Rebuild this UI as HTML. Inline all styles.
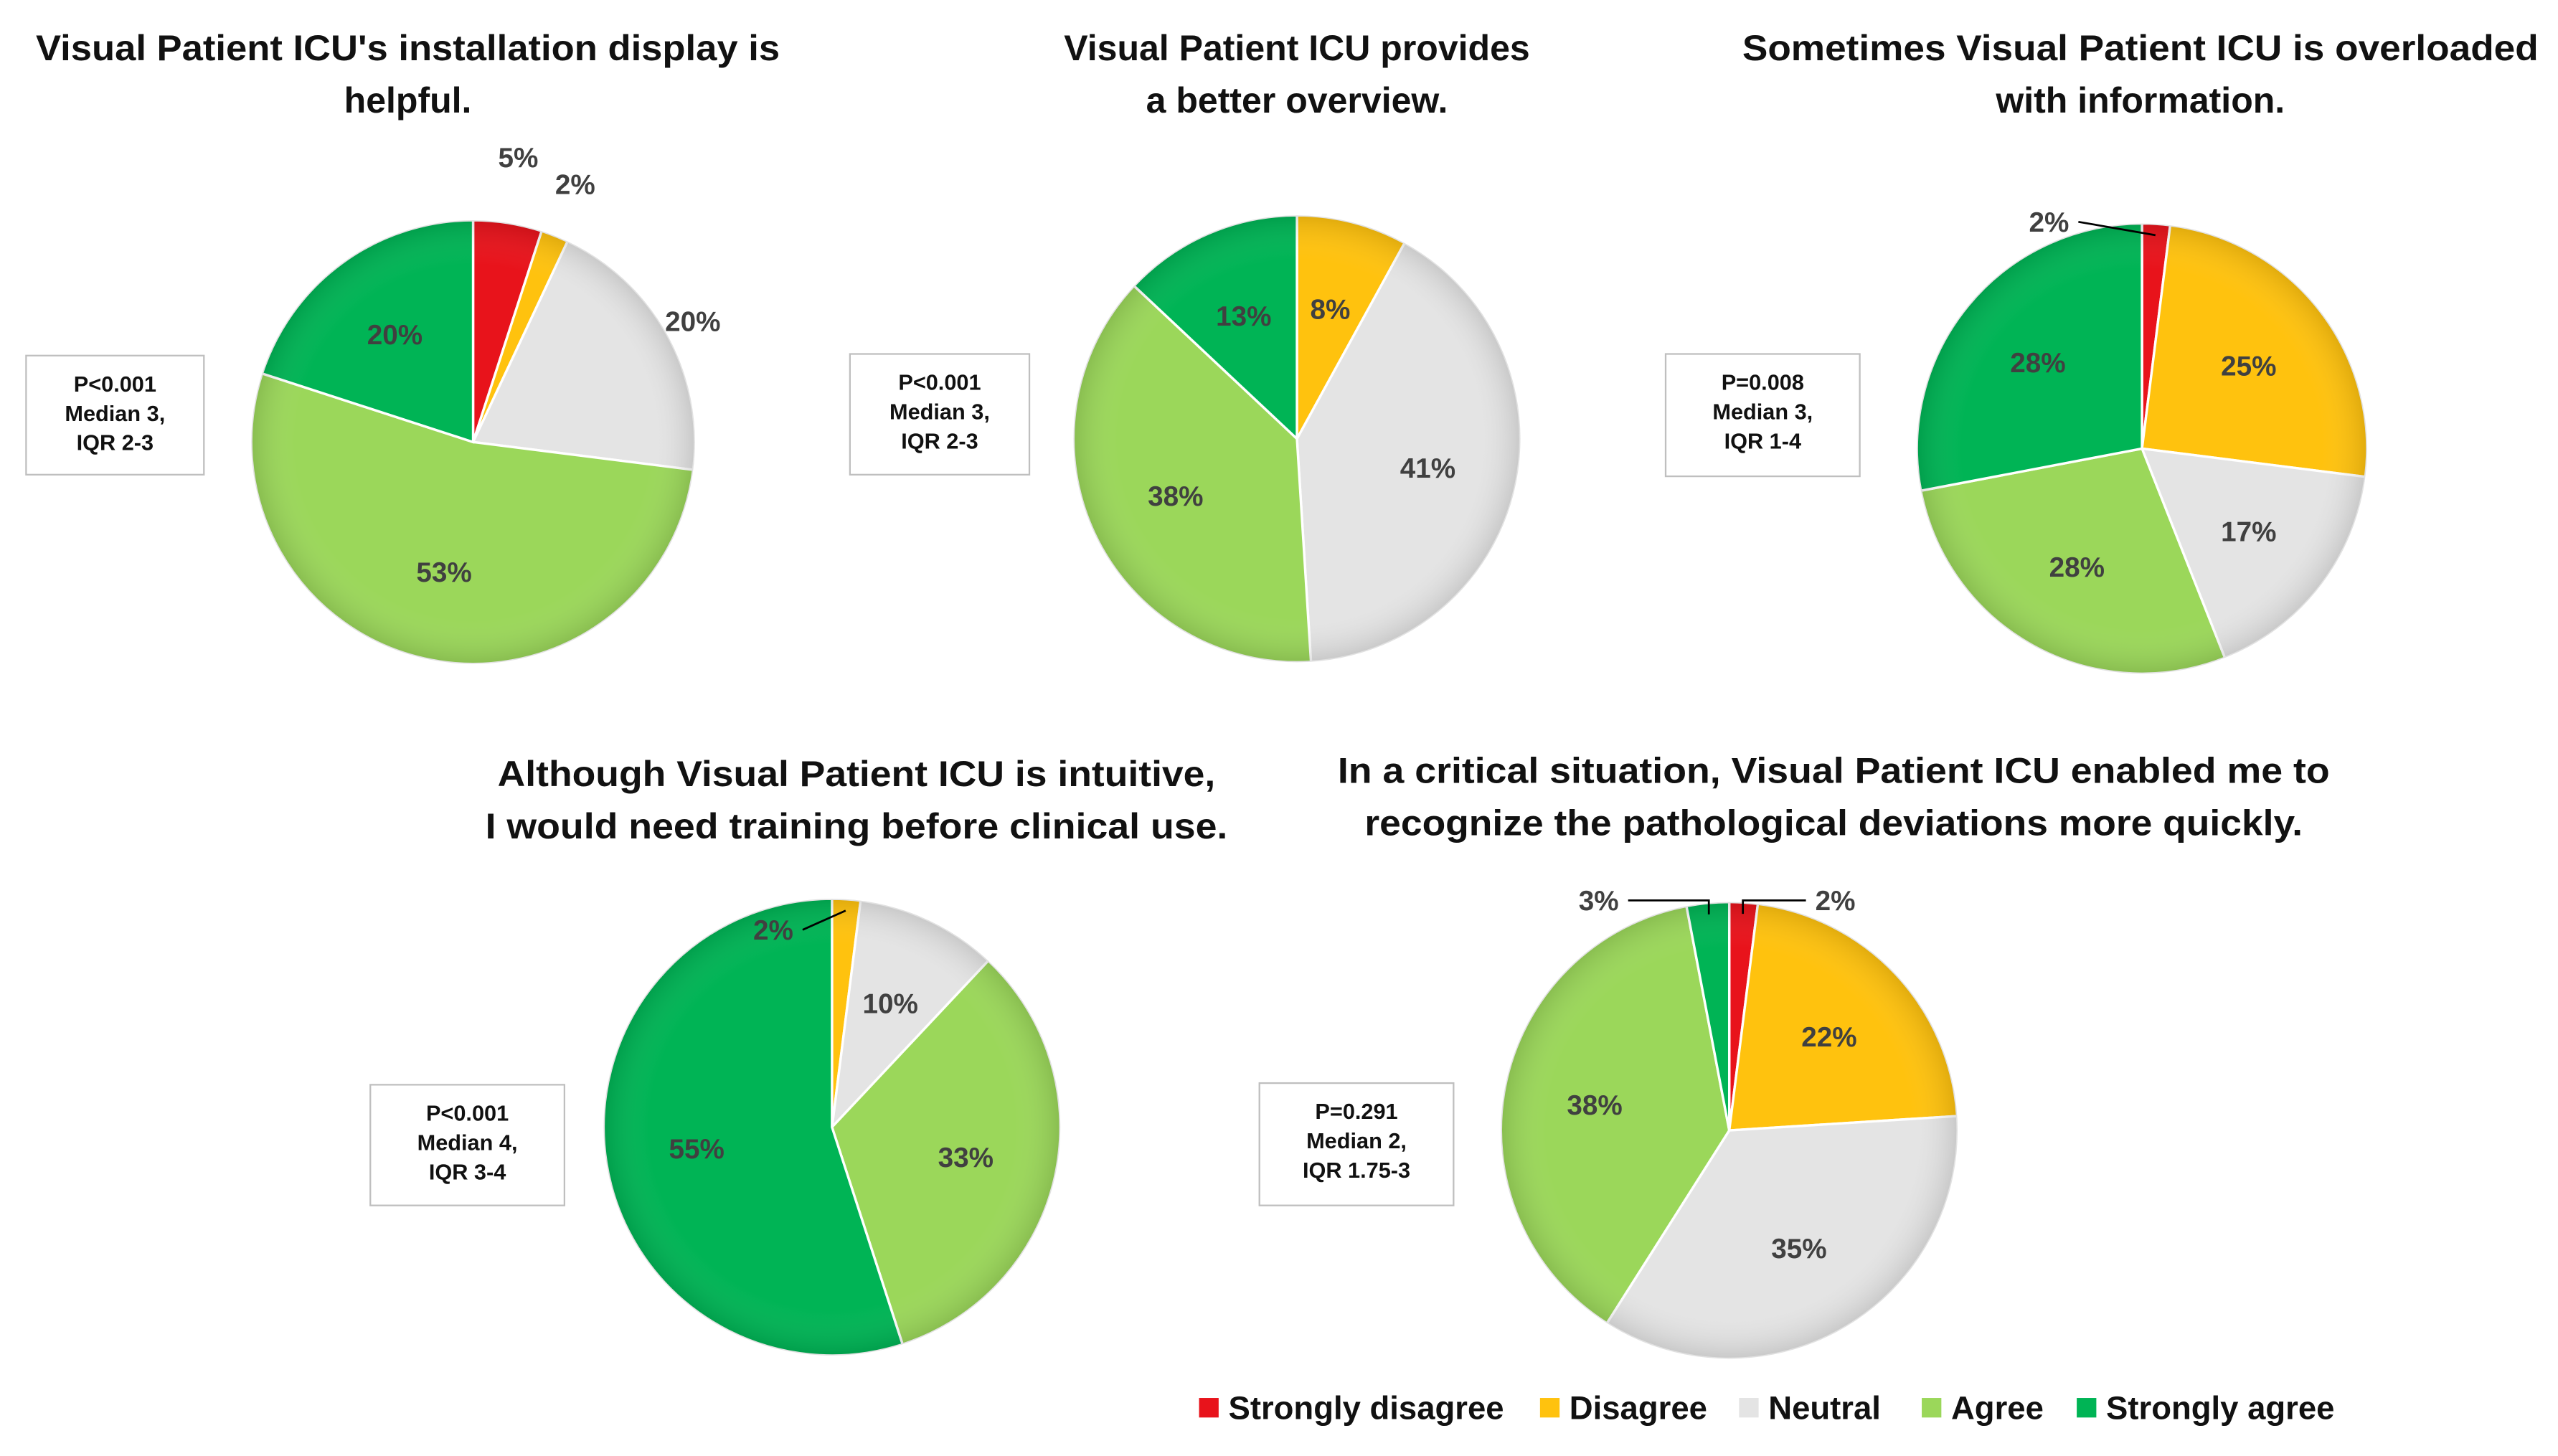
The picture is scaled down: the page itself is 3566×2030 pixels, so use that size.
<!DOCTYPE html>
<html><head><meta charset="utf-8"><style>
html,body{margin:0;padding:0;background:#fff}
svg{display:block}
text{font-family:"Liberation Sans",sans-serif;font-weight:bold}
</style></head><body>
<svg id="chart" width="3566" height="2030" viewBox="0 0 1568 892.6" preserveAspectRatio="none" xmlns="http://www.w3.org/2000/svg">
<defs>
<radialGradient id="shade" cx="50%" cy="50%" r="50%">
<stop offset="0.8" stop-color="#fff" stop-opacity="0"/>
<stop offset="1" stop-color="#000" stop-opacity="0.12"/>
</radialGradient>
</defs>
</svg>
<script>
const categories = ["Strongly disagree","Disagree","Neutral","Agree","Strongly agree"];
const pie1Values = [5,2,20,53,20];
const pie2Values = [0,8,41,38,13];
const pie3Values = [2,25,17,28,28];
const pie4Values = [0,2,10,33,55];
const pie5Values = [2,22,35,38,3];
const titles = [
 ["Visual Patient ICU's installation display is","helpful."],
 ["Visual Patient ICU provides","a better overview."],
 ["Sometimes Visual Patient ICU is overloaded","with information."],
 ["Although Visual Patient ICU is intuitive,","I would need training before clinical use."],
 ["In a critical situation, Visual Patient ICU enabled me to","recognize the pathological deviations more quickly."]
];
const stats = [
 ["P<0.001","Median 3,","IQR 2-3"],
 ["P<0.001","Median 3,","IQR 2-3"],
 ["P=0.008","Median 3,","IQR 1-4"],
 ["P<0.001","Median 4,","IQR 3-4"],
 ["P=0.291","Median 2,","IQR 1.75-3"]
];
const colors = ["#e8131b","#ffc20e","#e4e4e4","#9bd75a","#00b455"];
const NS="http://www.w3.org/2000/svg";
const svg=document.getElementById('chart');
function mk(tag,attrs,parent){const e=document.createElementNS(NS,tag);for(const k in attrs)e.setAttribute(k,attrs[k]);(parent||svg).appendChild(e);return e;}
const layout=[
 {cx:290,cy:271,r:136,tx:250,ty:[29,61],tw:[456,0],box:[16,218,109,73],outside:{0:1.3,1:1.25,2:1.13}},
 {cx:795,cy:269,r:137,tx:795,ty:[29,61],tw:[0,0],box:[521,217,110,74],outside:{}},
 {cx:1313,cy:275,r:138,tx:1312,ty:[29,61],tw:[488,0],box:[1021,217,119,75],outside:{0:'lead'}},
 {cx:510,cy:691,r:140,tx:525,ty:[474,506],tw:[440,455],box:[227,665,119,74],outside:{1:'lead'}},
 {cx:1060,cy:693,r:140,tx:1124,ty:[472,504],tw:[608,575],box:[772,664,119,75],outside:{0:'lead',4:'lead'}}
];
const allValues=[pie1Values,pie2Values,pie3Values,pie4Values,pie5Values];
function pt(cx,cy,r,frac){const a=frac*2*Math.PI;return [cx+r*Math.sin(a),cy-r*Math.cos(a)];}
allValues.forEach((vals,pi)=>{
 const L=layout[pi];
 const g=mk('g',{});
 
 
 const total=vals.reduce((a,b)=>a+b,0);
 let acc=0;
 const labels=[];
 vals.forEach((v,i)=>{
  if(v<=0)return;
  const f0=acc/total,f1=(acc+v)/total;acc+=v;
  const p0=pt(L.cx,L.cy,L.r,f0),p1=pt(L.cx,L.cy,L.r,f1);
  const large=(f1-f0)>0.5?1:0;
  const s=mk('path',{d:`M${L.cx},${L.cy}L${p0[0]},${p0[1]}A${L.r},${L.r} 0 ${large} 1 ${p1[0]},${p1[1]}Z`,fill:colors[i],stroke:'#fff','stroke-width':1.5},g);
  
  
  labels.push({v,i,mid:(f0+f1)/2});
 });
 mk('circle',{cx:L.cx,cy:L.cy,r:L.r,fill:'url(#shade)'},g);
 labels.forEach(({v,i,mid})=>{
  const o=L.outside[i];
  let lp;
  if(o==='lead'){
   const edge=pt(L.cx,L.cy,L.r*0.95,mid);
   let lx,ly;
   if(pi===2){lx=1256;ly=136;}
   else if(pi===3){lx=474;ly=570;}
   else if(i===0){lx=1125;ly=552;}
   else{lx=980;ly=552;}
   const side=lx<edge[0]?1:-1;
   mk('polyline',{points:`${lx+side*18},${ly} ${pi===4?(edge[0])+','+ly+' ':''}${edge[0]},${edge[1]}`,fill:'none',stroke:'#000','stroke-width':1.2},g);
   lp=[lx,ly];
  } else if(o){lp=pt(L.cx,L.cy,L.r*o,mid);}
  else lp=pt(L.cx,L.cy,L.r*0.6,mid);
  const t=mk('text',{x:lp[0],y:lp[1]+6,'text-anchor':'middle','font-size':17,fill:'#404040'},g);
  t.textContent=v+'%';
  
  
 });
 titles[pi].forEach((line,li)=>{
  const a={x:L.tx,y:L.ty[li]+8,'text-anchor':'middle','font-size':22,fill:'#111'};
  if(L.tw[li]){a.textLength=L.tw[li];a.lengthAdjust='spacingAndGlyphs';}
  const t=mk('text',a,g);t.textContent=line;
  
  
 });
 const b=L.box;
 const rect=mk('rect',{x:b[0],y:b[1],width:b[2],height:b[3],fill:'#fff',stroke:'#bfbfbf','stroke-width':1},g);
 
 
 stats[pi].forEach((line,li)=>{
  const t=mk('text',{x:b[0]+b[2]/2,y:b[1]+22+li*18,'text-anchor':'middle','font-size':13.5,fill:'#111'},g);
  t.textContent=line;
  
  
 });
});
const legX=[735,944,1066,1178,1273];
const lg=mk('g',{});


categories.forEach((c,i)=>{
 const e=mk('g',{},lg);
 
 
 mk('rect',{x:legX[i],y:857,width:12,height:12,fill:colors[i]},e);
 const t=mk('text',{x:legX[i]+18,y:870,'font-size':20,fill:'#111'},e);
 t.textContent=c;
});
</script>
</body></html>
